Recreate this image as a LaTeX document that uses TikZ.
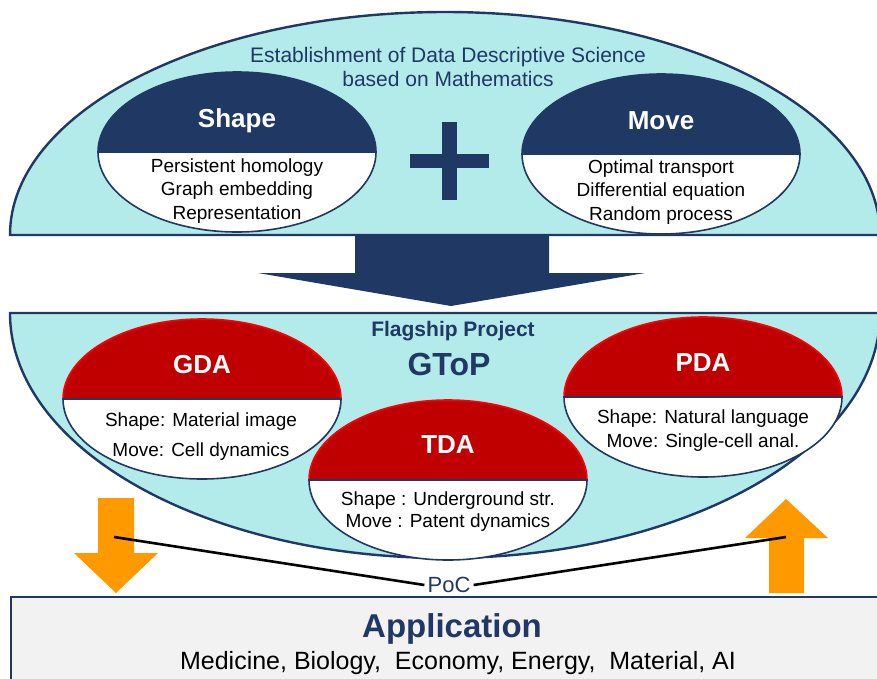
\documentclass[tikz,border=0pt]{standalone}
\usepackage{fontspec}
\setmainfont{Liberation Sans}
\definecolor{navy}{HTML}{203864}
\definecolor{aqua}{HTML}{B3EAEA}
\definecolor{crimson}{HTML}{C00000}
\definecolor{amber}{HTML}{FF9900}
\definecolor{pale}{HTML}{F2F2F2}
\begin{document}
\begin{tikzpicture}[x=1pt,y=-1pt,
  ovaltitle/.style={text=white,font=\bfseries\fontsize{26}{30}\selectfont},
  ovaltext/.style={align=center,font=\fontsize{19}{23.5}\selectfont}]
\useasboundingbox (0,0) rectangle (877,678);
\clip (0,0) rectangle (877,678);
\newcommand\twotone[4]{
\fill[#3] (#1-139,#2) arc[start angle=180,end angle=360,x radius=139,y radius=80] -- cycle;
\fill[white] (#1-139,#2) arc[start angle=180,end angle=0,x radius=139,y radius=80] -- cycle;
\draw[#4,line width=1.6pt] (#1-139,#2) arc[start angle=180,end angle=360,x radius=139,y radius=80];
\draw[navy,line width=1.6pt] (#1-139,#2) arc[start angle=180,end angle=0,x radius=139,y radius=80] -- cycle;
}
% big arrow between the two halves
\fill[navy] (355,236) -- (549,236) -- (549,273) -- (645,273) -- (451,306) -- (258,273) -- (355,273) -- cycle;
% upper half: mathematics
\draw[navy,fill=aqua,line width=2.4pt] (10,235) arc[start angle=180,end angle=360,x radius=435,y radius=223] -- cycle;
\node[align=center,text=navy,font=\fontsize{21}{24.5}\selectfont] (science) at (448,67) {Establishment of Data Descriptive Science\\based on Mathematics};
\twotone{237}{152}{navy}{navy}
\node[ovaltitle] (shape) at (237,121) {Shape};
\node[ovaltext] (shapetext) at (237,191) {Persistent homology\\Graph embedding\\Representation};
\twotone{661}{154}{navy}{navy}
\node[ovaltitle] (move) at (661,121) {Move};
\node[ovaltext] (movetext) at (661,192) {Optimal transport\\Differential equation\\Random process};
\fill[navy] (410,154) rectangle (489,168);
\fill[navy] (442,122) rectangle (457,200);
% lower half: GToP
\draw[navy,fill=aqua,line width=2.4pt] (10,313) arc[start angle=180,end angle=0,x radius=435,y radius=245] -- cycle;
\node[text=navy,font=\bfseries\fontsize{21}{25}\selectfont] (flagship) at (453,331) {Flagship Project};
\node[text=navy,font=\bfseries\fontsize{32}{38}\selectfont] (gtop) at (449,364) {GToP};
\twotone{202}{399}{crimson}{red}
\node[ovaltitle] (gda) at (202,365) {GDA};
\node[ovaltext] (gdatext) at (201,437) {Shape: Material image\\[6.5pt]Move: Cell dynamics};
\twotone{703}{397}{crimson}{red}
\node[ovaltitle] (pda) at (703,363) {PDA};
\node[ovaltext] (pdatext) at (703,431) {Shape: Natural language\\[0.5pt]Move: Single-cell anal.};
\twotone{448}{480}{crimson}{red}
\node[ovaltitle] (tda) at (448,445) {TDA};
\node[ovaltext] (tdatext) at (448,512) {Shape : Underground str.\\[-1.5pt]Move : Patent dynamics};
% application
\draw[navy,fill=pale,line width=2.4pt] (11,597) rectangle (890,690);
\node[text=navy,font=\bfseries\fontsize{33}{40}\selectfont] (application) at (452,629) {Application};
\node[font=\fontsize{25}{30}\selectfont] (fields) at (458,663) {Medicine, Biology,\ \ Economy, Energy,\ \ Material, AI};
% PoC arrows
\fill[amber] (98,498) -- (134,498) -- (134,553) -- (158,553) -- (116,593) -- (74,553) -- (98,553) -- cycle;
\fill[amber] (769,593) -- (804,593) -- (804,538) -- (828,538) -- (786,499) -- (745,538) -- (769,538) -- cycle;
\coordinate (down) at (114,537);
\coordinate (up) at (786,537);
\node[text=navy,font=\fontsize{22}{26}\selectfont,inner sep=3pt] (poc) at (449,585) {PoC};
\draw[line width=2.6pt] (down) -- (poc.west);
\draw[line width=2.6pt] (poc.east) -- (up);
\end{tikzpicture}
\end{document}
